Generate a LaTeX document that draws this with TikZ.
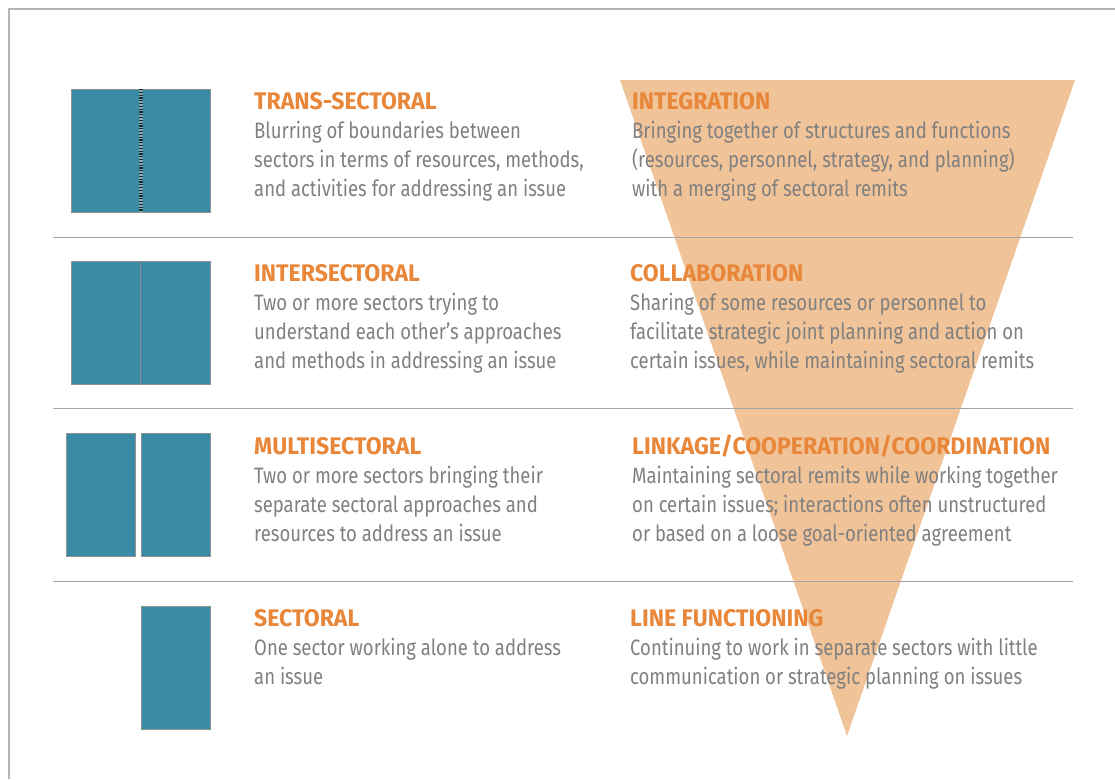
\documentclass[tikz,border=0pt]{standalone}
\usepackage{fontspec}
\setmainfont{Fira Sans}[FakeStretch=0.83]
\newfontfamily\headfont{Fira Sans}[FakeStretch=0.96]
\usetikzlibrary{positioning}

\definecolor{sectorblue}{HTML}{388AA5}
\definecolor{funnelpeach}{HTML}{F0C398}
\definecolor{headorange}{HTML}{E8873A}
\definecolor{bodygray}{HTML}{808080}
\definecolor{framegray}{HTML}{B5B5B5}

% heading line, then the description; the node's base is its last line
\newcommand{\rowtext}[2]{{\headfont\bfseries\fontsize{24}{28.7}\selectfont\color{headorange}#1}\\#2}

\begin{document}
\begin{tikzpicture}[x=1pt, y=-1pt]
      \tikzstyle{STY1} = [draw=gray!85, fill=sectorblue, line width=0.8pt]
      \tikzstyle{STY2} = [draw=gray!70, line width=0.9pt]
      \tikzstyle{STY3} = [anchor=base west, inner sep=0pt, align=left, text=bodygray,
                          font=\fontsize{22.3}{28.7}\selectfont]

      \useasboundingbox (0,0) rectangle (1115,779);

      %%%%% FRAME
      \coordinate (f0) at (9,779);
      \coordinate (f1) at (9,9);
      \coordinate (f2) at (1115,9);
      \draw[framegray, line width=2pt] (f0) -- (f1) -- (f2);

      %%%%% FUNNEL
      \coordinate (t1) at (620,80);
      \coordinate (t2) at (1075,80);
      \coordinate (t3) at (847,736);
      \fill[funnelpeach] (t1) -- (t2) -- (t3) -- cycle;

      %%%%% SEPARATORS
      \foreach \y/\n in {237/1, 408/2, 581/3}{
        \coordinate (sa\n) at (53,\y);
        \coordinate (sb\n) at (1073,\y);
        \draw[STY2] (sa\n) -- (sb\n);
      }

      %%%%% SECTOR BOXES
      \node[STY1, rectangle, minimum width=139pt, minimum height=123pt, anchor=north west](b1) at (71,89) {};
      \coordinate (b1t) at (140.5,89);
      \coordinate (b1b) at (140.5,212);
      \draw[line width=4pt, color=sectorblue!60!gray!70] (b1t) -- (b1b);
      \draw[line width=4pt, color=black!70!sectorblue, dash pattern=on 1.2pt off 1.6pt] (b1t) -- (b1b);

      \node[STY1, rectangle, minimum width=139pt, minimum height=123pt, anchor=north west](b2) at (71,261) {};
      \coordinate (b2t) at (140.5,261);
      \coordinate (b2b) at (140.5,384);
      \draw[gray!90, line width=1pt] (b2t) -- (b2b);

      \node[STY1, rectangle, minimum width=69pt, minimum height=123pt, anchor=north west](b3) at (66,433) {};
      \node[STY1, rectangle, minimum width=69pt, minimum height=123pt, anchor=north west](b4) at (141,433) {};

      \node[STY1, rectangle, minimum width=69pt, minimum height=123pt, anchor=north west](b5) at (141,606) {};

      %%%%% LEFT COLUMN
      \node[STY3](l1) at (254,196) {\rowtext{TRANS-SECTORAL}{Blurring of boundaries between\\sectors in terms of resources, methods,\\and activities for addressing an issue}};
      \node[STY3](l2) at (254,368) {\rowtext{INTERSECTORAL}{Two or more sectors trying to\\understand each other’s approaches\\and methods in addressing an issue}};
      \node[STY3](l3) at (254,541) {\rowtext{MULTISECTORAL}{Two or more sectors bringing their\\separate sectoral approaches and\\resources to address an issue}};
      \node[STY3](l4) at (254,684) {\rowtext{SECTORAL}{One sector working alone to address\\an issue}};

      %%%%% RIGHT COLUMN
      \node[STY3](r1) at (632,196) {\rowtext{INTEGRATION}{Bringing together of structures and functions\\(resources, personnel, strategy, and planning)\\with a merging of sectoral remits}};
      \node[STY3](r2) at (630,368) {\rowtext{COLLABORATION}{Sharing of some resources or personnel to\\facilitate strategic joint planning and action on\\certain issues, while maintaining sectoral remits}};
      \node[STY3](r3) at (632,541) {\rowtext{LINKAGE/COOPERATION/COORDINATION}{Maintaining sectoral remits while working together\\on certain issues; interactions often unstructured\\or based on a loose goal-oriented agreement}};
      \node[STY3](r4) at (630,684) {\rowtext{LINE FUNCTIONING}{Continuing to work in separate sectors with little\\communication or strategic planning on issues}};
    \end{tikzpicture}
\end{document}
